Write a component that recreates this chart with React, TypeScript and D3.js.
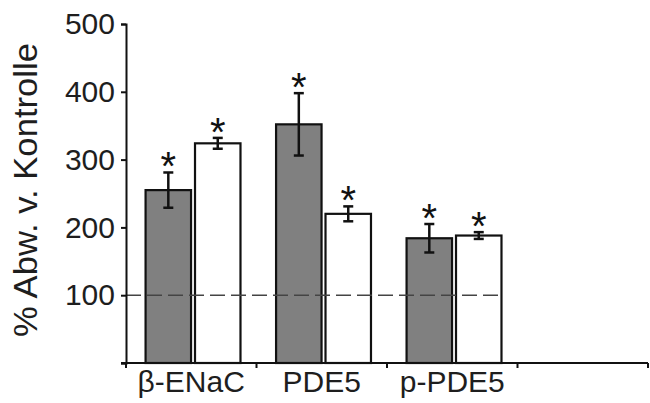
import React, { useEffect, useRef } from 'react';
import * as d3 from 'd3';

const categories = ['β-ENaC', 'PDE5', 'p-PDE5', ''];
const grayValues = [255, 352, 184];
const grayErrors = [26, 46, 21];
const whiteValues = [324, 220, 188];
const whiteErrors = [8, 11, 5];
const yTicks = [100, 200, 300, 400, 500];
const baseline = 100;

const WIDTH = 650;
const HEIGHT = 403;
const FONT = '"Liberation Sans", Arial, sans-serif';

export default function App() {
    const ref = useRef<SVGSVGElement>(null);

    useEffect(() => {
        const svg = d3.select(ref.current);
        svg.selectAll('*').remove();

        const x = d3.scaleBand().domain(categories).range([126, 648]).padding(0);
        const sub = d3.scaleBand().domain(['gray', 'white'])
            .range([0, x.bandwidth()])
            .paddingInner(0.08)
            .paddingOuter(0.36)
            .align(0.55);
        const y = d3.scaleLinear().domain([0, 500]).range([363, 24]);

        const rows = categories.slice(0, 3).flatMap((c, i) => [
            { cat: c, kind: 'gray', value: grayValues[i], err: grayErrors[i] },
            { cat: c, kind: 'white', value: whiteValues[i], err: whiteErrors[i] }
        ]);

        // bars
        svg.append('g').selectAll('rect')
            .data(rows)
            .enter()
            .append('rect')
            .attr('x', d => x(d.cat)! + sub(d.kind)!)
            .attr('y', d => y(d.value))
            .attr('width', sub.bandwidth())
            .attr('height', d => y(0) - y(d.value))
            .attr('fill', d => d.kind === 'gray' ? '#808080' : '#ffffff')
            .attr('stroke', '#111')
            .attr('stroke-width', 2.2);

        // dashed 100% line
        svg.append('line')
            .attr('x1', x.range()[0])
            .attr('x2', x('p-PDE5')! + sub('white')! + sub.bandwidth())
            .attr('y1', y(baseline))
            .attr('y2', y(baseline))
            .attr('stroke', '#444')
            .attr('stroke-width', 1.5)
            .attr('stroke-dasharray', '15,6');

        // error bars
        const eb = svg.append('g').attr('stroke', '#111').attr('stroke-width', 2.5);
        rows.forEach(d => {
            const cx = x(d.cat)! + sub(d.kind)! + sub.bandwidth() / 2;
            eb.append('line').attr('x1', cx).attr('x2', cx)
                .attr('y1', y(d.value + d.err)).attr('y2', y(d.value - d.err));
            eb.append('line').attr('x1', cx - 5).attr('x2', cx + 5)
                .attr('y1', y(d.value + d.err)).attr('y2', y(d.value + d.err));
            eb.append('line').attr('x1', cx - 5).attr('x2', cx + 5)
                .attr('y1', y(d.value - d.err)).attr('y2', y(d.value - d.err));
        });

        // asterisks
        svg.append('g').selectAll('text')
            .data(rows)
            .enter()
            .append('text')
            .attr('x', d => x(d.cat)! + sub(d.kind)! + sub.bandwidth() / 2)
            .attr('y', d => y(d.value + d.err) + 8)
            .attr('text-anchor', 'middle')
            .attr('font-family', FONT)
            .attr('font-size', 40)
            .attr('fill', '#111')
            .text('*');

        // y axis
        const yAxis = svg.append('g')
            .attr('transform', 'translate(126,0)')
            .call(d3.axisLeft(y).tickValues([0, ...yTicks]).tickSize(5).tickPadding(6)
                .tickFormat(d => (d === 0 ? '' : String(d))));
        yAxis.select('.domain').attr('stroke', '#111').attr('stroke-width', 2);
        yAxis.selectAll('.tick line').attr('stroke', '#111').attr('stroke-width', 2);
        yAxis.selectAll('.tick text')
            .attr('font-family', FONT)
            .attr('font-size', 30)
            .attr('fill', '#1e1e1e');

        // x axis
        const xAxis = svg.append('g')
            .attr('transform', 'translate(0,363)')
            .call(d3.axisBottom(x).tickSize(0).tickPadding(8));
        xAxis.select('.domain').remove();
        xAxis.append('line')
            .attr('x1', 121).attr('x2', 648)
            .attr('stroke', '#111').attr('stroke-width', 2.2);
        xAxis.selectAll('.tick line').remove();
        xAxis.selectAll('.xt')
            .data([...categories.map(c => x(c)!), x.range()[1]])
            .enter()
            .append('line')
            .attr('class', 'xt')
            .attr('x1', d => d).attr('x2', d => d)
            .attr('y1', 0).attr('y2', 5)
            .attr('stroke', '#111').attr('stroke-width', 2);
        xAxis.selectAll('.tick text')
            .attr('font-family', FONT)
            .attr('font-size', 30)
            .attr('fill', '#1e1e1e');

        // y label
        svg.append('text')
            .attr('transform', 'translate(37,190) rotate(-90)')
            .attr('text-anchor', 'middle')
            .attr('font-family', FONT)
            .attr('font-size', 33)
            .attr('fill', '#1e1e1e')
            .attr('textLength', 294)
            .attr('lengthAdjust', 'spacingAndGlyphs')
            .text('% Abw. v. Kontrolle');
    }, []);

    return (
        <svg ref={ref} width={WIDTH} height={HEIGHT}
            style={{ position: 'absolute', left: 0, top: 0, background: '#fff' }} />
    );
}
